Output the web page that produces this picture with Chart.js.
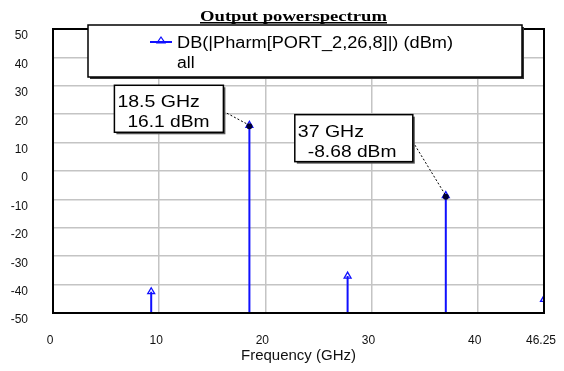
<!DOCTYPE html>
<html>
<head>
<meta charset="utf-8">
<script src="https://cdn.jsdelivr.net/npm/chart.js@4"></script>
<style>
  html, body { margin: 0; padding: 0; background: #fff; }
  #wrap { width: 564px; height: 371px; position: relative; }
</style>
</head>
<body>
<div id="wrap"><canvas id="chart"></canvas></div>
<script>
'use strict';

// harmonics of the 9.25 GHz output
const harmonicFreqs = [9.25, 18.5, 27.75, 37, 46.25];
const powerDbm = [-42.5, 16.1, -37, -8.68, -45.2];
const markerFreqs = [18.5, 37];
const xTickValues = [0, 10, 20, 30, 40, 46.25];
const yTickValues = [50, 40, 30, 20, 10, 0, -10, -20, -30, -40, -50];
const yMin = -50;
const yMax = 50;

const chartTitle = 'Output powerspectrum';
const seriesLabel = 'DB(|Pharm[PORT_2,26,8]|) (dBm)';
const sweepLabel = 'all';
const xAxisTitle = 'Frequency (GHz)';

const BLUE = '#1010ff';
const SANS = '"Liberation Sans", Arial, sans-serif';

// each harmonic is a stem: floor -> value, then a gap
const stemData = [];
harmonicFreqs.forEach((f, i) => {
    stemData.push({x: f, y: yMin, top: false});
    stemData.push({x: f, y: powerDbm[i], top: true});
    stemData.push({x: f, y: null, top: false});
});

// marker boxes, offset from their point (pixels)
const markerBoxes = [
    {dx: -135, dy: -40, w: 109, h: 47, leadY: 26},
    {dx: -151, dy: -81, w: 118, h: 47, leadY: 27}
];

// old-style bitmap text is wider than ours, so stretch it a bit
const stretchText = (ctx, text, x, y, sx) => {
    ctx.save();
    ctx.translate(x, y);
    ctx.scale(sx, 1);
    ctx.fillText(text, 0, 0);
    ctx.restore();
};

const framePlugin = {
    id: 'frame',
    afterDatasetsDraw: (chart) => {
        const {ctx, chartArea: a, scales} = chart;
        ctx.save();
        ctx.strokeStyle = '#000';
        ctx.lineWidth = 2;
        ctx.strokeRect(a.left, a.top, a.right - a.left, a.bottom - a.top);

        // marker points + their boxes
        markerFreqs.forEach((f, k) => {
            const v = powerDbm[harmonicFreqs.indexOf(f)];
            const px = scales.x.getPixelForValue(f);
            const py = scales.y.getPixelForValue(v);
            const b = markerBoxes[k];
            const bx = px + b.dx;
            const by = py + b.dy;

            ctx.setLineDash([2, 2]);
            ctx.lineWidth = 1;
            ctx.strokeStyle = '#000';
            ctx.beginPath();
            ctx.moveTo(bx + b.w, by + b.leadY);
            ctx.lineTo(px, py);
            ctx.stroke();
            ctx.setLineDash([]);

            ctx.fillStyle = '#000033';
            ctx.beginPath();
            ctx.arc(px, py + 1, 3, 0, Math.PI * 2);
            ctx.fill();

            ctx.fillStyle = '#555';
            ctx.fillRect(bx + 2, by + 2, b.w, b.h);
            ctx.fillStyle = '#fff';
            ctx.fillRect(bx, by, b.w, b.h);
            ctx.lineWidth = 1.5;
            ctx.strokeRect(bx, by, b.w, b.h);

            ctx.fillStyle = '#000';
            ctx.font = '16px ' + SANS;
            ctx.textAlign = 'left';
            ctx.textBaseline = 'alphabetic';
            stretchText(ctx, `${f} GHz`, bx + 3, by + 22, 1.22);
            stretchText(ctx, `${v} dBm`, bx + 13, by + 42, 1.2);
        });
        ctx.restore();
    },
    afterDraw: (chart) => {
        const ctx = chart.ctx;
        ctx.save();

        // legend box
        ctx.fillStyle = '#333';
        ctx.fillRect(90, 27, 434, 52);
        ctx.fillStyle = '#fff';
        ctx.fillRect(88, 25, 434, 52);
        ctx.strokeStyle = '#000';
        ctx.lineWidth = 1.5;
        ctx.strokeRect(88, 25, 434, 52);

        ctx.strokeStyle = BLUE;
        ctx.lineWidth = 2;
        ctx.beginPath();
        ctx.moveTo(150, 42);
        ctx.lineTo(172, 42);
        ctx.stroke();
        ctx.lineWidth = 1.2;
        ctx.beginPath();
        ctx.moveTo(161, 37);
        ctx.lineTo(165, 43);
        ctx.lineTo(157, 43);
        ctx.closePath();
        ctx.stroke();

        ctx.fillStyle = '#000';
        ctx.font = '16px ' + SANS;
        ctx.textBaseline = 'alphabetic';
        stretchText(ctx, seriesLabel, 177, 48, 276 / ctx.measureText(seriesLabel).width);
        stretchText(ctx, sweepLabel, 177, 68, 1.1);

        // title, bold + underlined, squeezed to its width
        ctx.font = 'bold 15px "Liberation Serif", serif';
        const tw = ctx.measureText(chartTitle).width;
        const target = 187;
        stretchText(ctx, chartTitle, 200, 21, target / tw);
        ctx.fillRect(200, 22, target, 1.5);
        ctx.restore();
    }
};

const data = {
    datasets: [{
        label: seriesLabel,
        data: stemData,
        borderColor: BLUE,
        borderWidth: 2,
        spanGaps: false,
        pointStyle: 'triangle',
        pointRadius: (c) => (c.raw && c.raw.top ? 4 : 0),
        pointBorderColor: BLUE,
        pointBackgroundColor: 'rgba(255,255,255,0)',
        pointBorderWidth: 1.3,
        tension: 0
    }]
};

const options = {
    responsive: false,
    animation: false,
    layout: {padding: {left: 0, right: 20, top: 29, bottom: 0}},
    plugins: {
        legend: {display: false},
        title: {display: false},
        tooltip: {enabled: false}
    },
    scales: {
        x: {
            type: 'linear',
            min: 0,
            max: 46.25,
            afterBuildTicks: (scale) => {
                scale.ticks = xTickValues.map(v => ({value: v}));
            },
            afterFit: (scale) => {
                scale.height = 58;
                // don't let the last label shrink the plot
                scale.paddingLeft = 0;
                scale.paddingRight = 0;
            },
            grid: {color: '#c4c4c4', lineWidth: 1.5, drawTicks: false},
            border: {display: false},
            ticks: {
                padding: 20,
                labelOffset: -3,
                autoSkip: false,
                maxRotation: 0,
                color: '#111',
                font: {family: SANS, size: 12},
                callback: (v) => String(v)
            },
            title: {
                display: true,
                text: xAxisTitle,
                color: '#111',
                padding: {top: 0, bottom: 6},
                font: {family: SANS, size: 15}
            }
        },
        y: {
            min: yMin,
            max: yMax,
            afterBuildTicks: (scale) => {
                scale.ticks = yTickValues.map(v => ({value: v}));
            },
            afterFit: (scale) => {
                scale.width = 53;
                scale.paddingTop = 0;
                scale.paddingBottom = 0;
            },
            grid: {color: '#c4c4c4', lineWidth: 1.5, drawTicks: false},
            border: {display: false},
            ticks: {
                padding: 25,
                labelOffset: 7,
                autoSkip: false,
                color: '#111',
                font: {family: SANS, size: 12},
                callback: (v) => String(v)
            }
        }
    }
};

const canvas = document.getElementById('chart');
canvas.width = 564;
canvas.height = 371;

new Chart(canvas, {
    type: 'line',
    data: data,
    options: options,
    plugins: [framePlugin]
});
</script>
</body>
</html>
